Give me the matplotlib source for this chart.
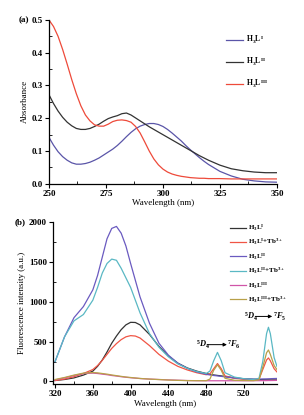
import matplotlib
matplotlib.use('Agg')
import numpy as np
import matplotlib.pyplot as plt
from matplotlib.ticker import MultipleLocator, FormatStrFormatter

plt.rcParams.update({
    'font.family': 'serif',
    'font.serif': ['Liberation Serif', 'DejaVu Serif'],
    'font.weight': 'bold',
    'mathtext.fontset': 'custom',
    'mathtext.rm': 'Liberation Serif:bold',
    'mathtext.it': 'Liberation Serif:italic:bold',
    'mathtext.bf': 'Liberation Serif:bold',
    'font.size': 6.5,
    'axes.linewidth': 0.9,
})

# ---- (a) absorbance ----
wl_a = [250, 252, 254, 256, 258, 260, 262, 264, 266, 268, 270, 272, 274, 276, 278, 280,
        282, 284, 286, 288, 290, 292, 294, 296, 298, 300, 302, 304, 306, 308, 310, 312,
        314, 316, 318, 320, 325, 330, 335, 340, 345, 350]
abs_L1 = [0.142, 0.118, 0.098, 0.083, 0.072, 0.064, 0.060, 0.060, 0.062, 0.066, 0.072,
          0.079, 0.088, 0.097, 0.106, 0.117, 0.130, 0.144, 0.157, 0.168, 0.176, 0.181,
          0.184, 0.184, 0.181, 0.175, 0.166, 0.155, 0.143, 0.131, 0.117, 0.104, 0.092,
          0.080, 0.069, 0.059, 0.038, 0.024, 0.014, 0.009, 0.006, 0.005]
abs_L2 = [0.272, 0.245, 0.222, 0.203, 0.188, 0.177, 0.169, 0.166, 0.166, 0.169, 0.175,
          0.182, 0.191, 0.199, 0.204, 0.208, 0.214, 0.216, 0.210, 0.201, 0.192, 0.183,
          0.174, 0.166, 0.158, 0.150, 0.142, 0.134, 0.126, 0.118, 0.110, 0.102, 0.094,
          0.086, 0.079, 0.072, 0.057, 0.046, 0.040, 0.036, 0.034, 0.034]
abs_L3 = [0.500, 0.480, 0.450, 0.410, 0.365, 0.318, 0.275, 0.238, 0.210, 0.192, 0.180,
          0.176, 0.176, 0.182, 0.190, 0.194, 0.195, 0.193, 0.188, 0.175, 0.155, 0.128,
          0.100, 0.076, 0.058, 0.045, 0.036, 0.030, 0.026, 0.023, 0.021, 0.019, 0.018,
          0.017, 0.017, 0.016, 0.016, 0.015, 0.015, 0.015, 0.015, 0.015]

# ---- (b) fluorescence ----
wl_b = [320, 330, 340, 350, 360, 365, 370, 375, 380, 385, 390, 395, 400, 405, 410, 420,
        430, 440, 450, 460, 470, 480, 484, 488, 492, 496, 500, 510, 520, 530, 536, 540,
        544, 546, 548, 552, 555]
fl_L1 = [12, 25, 45, 80, 130, 190, 270, 370, 480, 570, 650, 710, 742, 740, 710, 590,
         440, 320, 230, 170, 130, 100, 90, 82, 76, 70, 62, 45, 34, 27, 24, 22, 21, 21,
         20, 20, 20]
fl_L1Tb = [12, 30, 60, 100, 150, 200, 265, 340, 415, 475, 525, 560, 575, 570, 545, 450,
           340, 255, 190, 145, 110, 85, 95, 160, 225, 160, 70, 40, 28, 20, 30, 150, 270,
           295, 260, 160, 120]
fl_L2 = [250, 560, 800, 940, 1150, 1330, 1560, 1790, 1920, 1945, 1860, 1700, 1480, 1270,
         1060, 730, 480, 330, 230, 165, 120, 90, 82, 75, 70, 64, 58, 44, 34, 30, 30, 32,
         33, 34, 35, 37, 38]
fl_L2Tb = [250, 560, 760, 840, 1020, 1180, 1360, 1480, 1535, 1520, 1420, 1300, 1180, 1020,
           860, 600, 430, 310, 220, 165, 125, 100, 130, 260, 365, 260, 110, 55, 35, 25, 40,
           250, 600, 680, 600, 300, 190]
fl_L3 = [20, 45, 75, 100, 105, 100, 92, 85, 75, 68, 60, 53, 47, 42, 37, 30, 25, 20, 16,
         12, 10, 9, 9, 9, 9, 9, 9, 9, 9, 10, 10, 11, 11, 12, 12, 13, 14]
fl_L3Tb = [25, 50, 80, 105, 112, 108, 100, 92, 82, 73, 64, 56, 50, 44, 38, 30, 24, 18, 14,
           11, 10, 10, 30, 140, 210, 140, 40, 15, 12, 10, 20, 180, 360, 395, 340, 200, 150]

fig = plt.figure(figsize=(3.04, 4.15), dpi=100)
axA = fig.add_axes([0.161, 0.557, 0.750, 0.395])
axB = fig.add_axes([0.175, 0.075, 0.736, 0.39])

lw = 0.9
axA.plot(wl_a, abs_L1, color='#5a55a8', lw=lw, label=r'H$_3$L$^{\mathrm{I}}$')
axA.plot(wl_a, abs_L2, color='#333333', lw=lw, label=r'H$_3$L$^{\mathrm{II}}$')
axA.plot(wl_a, abs_L3, color='#ee4a3a', lw=lw, label=r'H$_3$L$^{\mathrm{III}}$')
axA.set_xlim(250, 350)
axA.set_ylim(0, 0.5)
axA.xaxis.set_major_locator(MultipleLocator(25))
axA.xaxis.set_minor_locator(MultipleLocator(12.5))
axA.yaxis.set_major_locator(MultipleLocator(0.1))
axA.yaxis.set_minor_locator(MultipleLocator(0.05))
axA.yaxis.set_major_formatter(FormatStrFormatter('%.1f'))
axA.set_xlabel('Wavelength (nm)', labelpad=1)
axA.set_ylabel('Absorbance', labelpad=2)
axA.legend(loc='upper left', bbox_to_anchor=(0.72, 0.935), bbox_transform=fig.transFigure,
           frameon=False, fontsize=5.5, labelspacing=1.3, handlelength=2.3, handletextpad=0.3)

axB.plot(wl_b, fl_L1, color='#333333', lw=lw, label=r'H$_3$L$^{\mathrm{I}}$')
axB.plot(wl_b, fl_L1Tb, color='#f05545', lw=lw, label=r'H$_3$L$^{\mathrm{I}}$+Tb$^{3+}$')
axB.plot(wl_b, fl_L2, color='#6a5ac0', lw=lw, label=r'H$_3$L$^{\mathrm{II}}$')
axB.plot(wl_b, fl_L2Tb, color='#5ab8c4', lw=lw, label=r'H$_3$L$^{\mathrm{II}}$+Tb$^{3+}$')
axB.plot(wl_b, fl_L3, color='#d055a8', lw=lw, label=r'H$_3$L$^{\mathrm{III}}$')
axB.plot(wl_b, fl_L3Tb, color='#b8a048', lw=lw, label=r'H$_3$L$^{\mathrm{III}}$+Tb$^{3+}$')
axB.set_xlim(318, 555)
axB.set_ylim(-30, 2000)
axB.xaxis.set_major_locator(MultipleLocator(40))
axB.xaxis.set_minor_locator(MultipleLocator(20))
axB.yaxis.set_major_locator(MultipleLocator(500))
axB.yaxis.set_minor_locator(MultipleLocator(250))
axB.set_xlabel('Wavelength (nm)', labelpad=1)
axB.set_ylabel('Fluorescence intensity (a.u.)', labelpad=2)
axB.legend(loc='upper left', bbox_to_anchor=(0.735, 0.478), bbox_transform=fig.transFigure,
           frameon=False, fontsize=5, labelspacing=0.6, handlelength=2.3, handletextpad=0.3)

# transition labels with arrows
for x0, x1, x2, yy, lo, hi in [(469, 481, 502, 462, r'$^{5}D_{4}$', r'$^{7}F_{6}$'),
                               (520, 532, 550, 816, r'$^{5}D_{4}$', r'$^{7}F_{5}$')]:
    axB.text(x0, yy, lo, fontsize=6, ha='left', va='center', clip_on=False)
    axB.annotate('', xy=(x2, yy), xytext=(x1, yy),
                 arrowprops=dict(arrowstyle='-|>', lw=0.7, color='k',
                                 mutation_scale=5, shrinkA=0, shrinkB=0))
    axB.text(x2 + 0.5, yy, hi, fontsize=6, ha='left', va='center', clip_on=False)

for ax in (axA, axB):
    ax.spines[['top', 'right']].set_visible(False)
    ax.tick_params(which='major', direction='out', length=3, width=0.8, pad=1.5)
    ax.tick_params(which='minor', direction='in', length=2, width=0.6)

fig.text(0.062, 1 - 20 / 415, '(a)', va='center', ha='left')
fig.text(0.048, 1 - 222 / 415, '(b)', va='center', ha='left')

fig.savefig('out.png', dpi=100)
